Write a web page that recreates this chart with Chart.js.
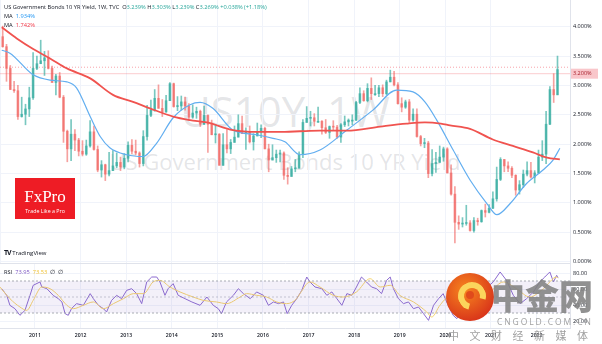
<!DOCTYPE html>
<html>
<head>
<meta charset="utf-8">
<script src="https://cdn.jsdelivr.net/npm/chart.js@4/dist/chart.umd.min.js"></script>
<style>
  body { margin: 0; background: #fff; width: 602px; height: 344px; overflow: hidden; position: relative; font-family: 'Open Sans', sans-serif; }
  canvas { position: absolute; left: 0; z-index: 1; }
  .t { position: absolute; white-space: nowrap; }
  #wm1 { left: 0; width: 570px; top: 90px; text-align: center; font-size: 42px; line-height: 42px; color: rgba(120,123,134,0.2); z-index: 0; }
  #wm2 { left: 0; width: 570px; top: 150px; text-align: center; font-size: 22px; line-height: 22px; color: rgba(120,123,134,0.2); z-index: 0; }
  .hd { left: 4px; font-size: 5.7px; line-height: 8px; color: #131722; z-index: 2; }
  #fx { left: 15px; top: 178px; width: 60px; height: 41px; background: #ee1c25; z-index: 2; color: #fff; text-align: center; }
  #fx .a { font-family: 'Liberation Serif', 'DejaVu Serif', serif; font-size: 17px; line-height: 17px; margin-top: 10px; }
  #fx .b { font-size: 5.3px; line-height: 6px; margin-top: 3px; }
  #tv { left: 4px; top: 248px; font-size: 6px; color: #131722; z-index: 2; }
  #cj { left: 446px; top: 273px; width: 48px; height: 48px; border-radius: 50%; z-index: 3;
        background: radial-gradient(circle at 40% 35%, #f7861f, #d9361a 75%); }
  #cj .s { position: absolute; left: 12px; top: 9px; width: 16px; height: 16px; border-radius: 50%; border: 6px solid #fbd45c; border-bottom-color: transparent; transform: rotate(-30deg); }
  #cj .d { position: absolute; left: 20px; top: 18px; width: 8px; height: 8px; border-radius: 50%; background: #e04a1c; }
  #cn1 { left: 491px; top: 275px; font-family: 'Noto Sans CJK SC'; font-weight: 900; font-size: 34px; line-height: 40px; color: rgba(130,130,130,0.88); z-index: 3; }
  #cn2 { left: 497px; top: 317px; font-size: 8.5px; line-height: 10px; letter-spacing: 1.9px; color: rgba(150,150,150,0.9); z-index: 3; }
  #cn3 { left: 448px; top: 329px; font-family: 'Noto Sans CJK SC'; font-size: 11px; line-height: 13px; letter-spacing: 10.5px; color: rgba(150,150,150,0.9); z-index: 3; }
</style>
</head>
<body>
<div class="t" id="wm1">US10Y, 1W</div>
<div class="t" id="wm2">US Government Bonds 10 YR Yield</div>
<canvas id="main" width="602" height="266" style="top:0"></canvas>
<canvas id="rsi" width="602" height="81" style="top:263px"></canvas>

<div class="t hd" style="top:3px">US Government Bonds 10 YR Yield, 1W, TVC &nbsp;O<span style="color:#26a69a">3.239%</span> H<span style="color:#26a69a">3.303%</span> L<span style="color:#26a69a">3.239%</span> C<span style="color:#26a69a">3.269%</span> <span style="color:#26a69a">+0.038% (+1.18%)</span></div>
<div class="t hd" style="top:12px">MA &nbsp;<span style="color:#2196f3">1.934%</span></div>
<div class="t hd" style="top:21px">MA &nbsp;<span style="color:#f23645">1.742%</span></div>
<div class="t hd" style="top:268px">RSI &nbsp;<span style="color:#7e57c2">73.95</span> &nbsp;<span style="color:#f2c230">73.53</span> &nbsp;∅ &nbsp;∅</div>

<div class="t" id="fx"><div class="a">FxPro</div><div class="b">Trade Like a Pro</div></div>
<div class="t" id="tv"><b style="font-size:7px;letter-spacing:-1px">TV</b> TradingView</div>

<div class="t" id="cj"><div class="s"></div><div class="d"></div></div>
<div class="t" id="cn1">中金网</div>
<div class="t" id="cn2">CNGOLD.COM.CN</div>
<div class="t" id="cn3">中文财经新媒体</div>

<script>
// weekly US10Y chart, drawn here as monthly candles
const months = [
  '2010-04','2010-05','2010-06','2010-07','2010-08','2010-09','2010-10','2010-11','2010-12',
  '2011-01','2011-02','2011-03','2011-04','2011-05','2011-06','2011-07','2011-08','2011-09','2011-10','2011-11','2011-12',
  '2012-01','2012-02','2012-03','2012-04','2012-05','2012-06','2012-07','2012-08','2012-09','2012-10','2012-11','2012-12',
  '2013-01','2013-02','2013-03','2013-04','2013-05','2013-06','2013-07','2013-08','2013-09','2013-10','2013-11','2013-12',
  '2014-01','2014-02','2014-03','2014-04','2014-05','2014-06','2014-07','2014-08','2014-09','2014-10','2014-11','2014-12',
  '2015-01','2015-02','2015-03','2015-04','2015-05','2015-06','2015-07','2015-08','2015-09','2015-10','2015-11','2015-12',
  '2016-01','2016-02','2016-03','2016-04','2016-05','2016-06','2016-07','2016-08','2016-09','2016-10','2016-11','2016-12',
  '2017-01','2017-02','2017-03','2017-04','2017-05','2017-06','2017-07','2017-08','2017-09','2017-10','2017-11','2017-12',
  '2018-01','2018-02','2018-03','2018-04','2018-05','2018-06','2018-07','2018-08','2018-09','2018-10','2018-11','2018-12',
  '2019-01','2019-02','2019-03','2019-04','2019-05','2019-06','2019-07','2019-08','2019-09','2019-10','2019-11','2019-12',
  '2020-01','2020-02','2020-03','2020-04','2020-05','2020-06','2020-07','2020-08','2020-09','2020-10','2020-11','2020-12',
  '2021-01','2021-02','2021-03','2021-04','2021-05','2021-06','2021-07','2021-08','2021-09','2021-10','2021-11','2021-12',
  '2022-01','2022-02','2022-03','2022-04','2022-05','2022-06'
];
const open = [
  3.83,3.66,3.29,2.93,2.91,2.47,2.51,2.60,2.79,
  3.29,3.37,3.42,3.47,3.29,3.05,3.16,2.80,2.22,1.92,2.17,2.07,
  1.88,1.83,1.97,2.21,1.91,1.56,1.65,1.49,1.55,1.63,1.69,1.61,
  1.76,1.98,1.88,1.85,1.67,2.13,2.49,2.58,2.78,2.61,2.55,2.74,
  3.03,2.64,2.65,2.72,2.65,2.46,2.53,2.56,2.34,2.49,2.34,2.16,
  2.17,1.64,1.99,1.92,2.03,2.12,2.35,2.18,2.21,2.04,2.14,2.21,
  2.27,1.92,1.73,1.77,1.83,1.85,1.47,1.45,1.58,1.59,1.83,2.37,
  2.44,2.45,2.39,2.39,2.28,2.20,2.30,2.29,2.12,2.33,2.38,2.41,
  2.41,2.71,2.86,2.74,2.95,2.86,2.86,2.96,2.86,3.06,3.14,3.01,
  2.69,2.63,2.72,2.41,2.51,2.13,2.01,2.02,1.50,1.67,1.69,1.78,
  1.92,1.51,1.15,0.67,0.64,0.65,0.66,0.53,0.70,0.68,0.87,0.84,
  0.91,1.07,1.40,1.74,1.63,1.59,1.47,1.22,1.31,1.49,1.55,1.44,
  1.51,1.78,1.83,2.34,2.93,2.84
];
const high = [
  4.01,3.70,3.34,3.07,3.00,2.80,2.68,2.97,3.56,
  3.50,3.77,3.58,3.59,3.33,3.19,3.22,2.83,2.24,2.42,2.25,2.10,
  2.06,2.07,2.40,2.31,1.97,1.72,1.66,1.86,1.89,1.85,1.78,1.84,
  2.04,2.08,2.07,1.87,2.23,2.66,2.75,2.93,3.01,2.76,2.83,3.05,
  3.04,2.81,2.82,2.80,2.69,2.67,2.63,2.58,2.65,2.50,2.41,2.33,
  2.18,2.18,2.25,2.08,2.31,2.50,2.48,2.28,2.31,2.18,2.36,2.33,
  2.29,2.00,1.99,1.90,1.90,1.87,1.60,1.62,1.74,1.87,2.42,2.64,
  2.56,2.52,2.63,2.40,2.42,2.31,2.40,2.32,2.35,2.48,2.43,2.50,
  2.73,2.96,2.91,3.03,3.13,3.00,3.00,3.01,3.09,3.26,3.24,3.05,
  2.79,2.75,2.76,2.60,2.60,2.15,2.10,2.05,1.91,1.86,1.97,1.95,
  1.94,1.65,1.28,0.78,0.75,0.96,0.70,0.75,0.74,0.88,0.98,0.97,
  1.19,1.61,1.77,1.74,1.70,1.62,1.48,1.38,1.56,1.70,1.69,1.55,
  1.90,2.06,2.56,2.98,3.20,3.50
];
const low = [
  3.65,3.07,2.93,2.88,2.42,2.46,2.33,2.47,2.76,
  3.27,3.37,3.17,3.28,3.05,2.84,2.79,2.03,1.70,1.72,1.89,1.80,
  1.80,1.81,1.95,1.90,1.53,1.44,1.38,1.46,1.55,1.60,1.55,1.58,
  1.70,1.84,1.82,1.61,1.63,2.07,2.47,2.56,2.61,2.47,2.54,2.74,
  2.63,2.57,2.58,2.58,2.41,2.44,2.44,2.30,2.33,1.86,2.16,2.02,
  1.64,1.64,1.85,1.84,2.03,2.12,2.18,1.91,2.02,1.90,2.14,2.11,
  1.92,1.53,1.73,1.69,1.70,1.40,1.32,1.45,1.53,1.59,1.77,2.37,
  2.31,2.31,2.37,2.17,2.18,2.10,2.24,2.10,2.03,2.30,2.31,2.33,
  2.40,2.69,2.73,2.72,2.76,2.83,2.81,2.81,2.84,3.06,2.99,2.68,
  2.55,2.61,2.37,2.39,2.12,1.97,1.94,1.43,1.46,1.52,1.69,1.71,
  1.51,1.13,0.32,0.55,0.59,0.62,0.52,0.50,0.62,0.67,0.76,0.83,
  0.90,1.03,1.38,1.53,1.53,1.43,1.13,1.15,1.26,1.46,1.42,1.34,
  1.50,1.72,1.67,2.33,2.71,2.84
];
const close = [
  3.66,3.29,2.93,2.91,2.47,2.51,2.60,2.79,3.29,
  3.37,3.42,3.47,3.29,3.05,3.16,2.80,2.22,1.92,2.17,2.07,1.88,
  1.83,1.97,2.21,1.91,1.56,1.65,1.49,1.55,1.63,1.69,1.61,1.76,
  1.98,1.88,1.85,1.67,2.13,2.49,2.58,2.78,2.61,2.55,2.74,3.03,
  2.64,2.65,2.72,2.65,2.46,2.53,2.56,2.34,2.49,2.34,2.16,2.17,
  1.64,1.99,1.92,2.03,2.12,2.35,2.18,2.21,2.04,2.14,2.21,2.27,
  1.92,1.73,1.77,1.83,1.85,1.47,1.45,1.58,1.59,1.83,2.37,2.44,
  2.45,2.39,2.39,2.28,2.20,2.30,2.29,2.12,2.33,2.38,2.41,2.41,
  2.71,2.86,2.74,2.95,2.86,2.86,2.96,2.86,3.06,3.14,3.01,2.69,
  2.63,2.72,2.41,2.51,2.13,2.01,2.02,1.50,1.67,1.69,1.78,1.92,
  1.51,1.15,0.67,0.64,0.65,0.66,0.53,0.70,0.68,0.87,0.84,0.91,
  1.07,1.40,1.74,1.63,1.59,1.47,1.22,1.31,1.49,1.55,1.44,1.51,
  1.78,1.83,2.34,2.93,2.84,3.27
];

// 200-week MA (red) and 50-week MA (blue), read at sample dates
const maSlowX = [2010.27,2010.60,2010.96,2011.33,2011.70,2012.21,2012.71,2013.15,2013.52,2014.03,2014.40,2014.77,2015.34,2015.86,2016.48,2016.81,2017.25,2017.84,2018.57,2019.15,2019.55,2019.90,2020.10,2020.54,2021.04,2021.48,2021.92,2022.23,2022.51];
const maSlowY = [3.99,3.80,3.62,3.46,3.29,3.12,2.84,2.72,2.61,2.47,2.41,2.37,2.24,2.21,2.21,2.22,2.23,2.23,2.30,2.35,2.37,2.35,2.32,2.26,2.08,1.97,1.86,1.77,1.74];
const maFastX = [2010.27,2010.45,2010.96,2011.33,2011.70,2011.91,2012.21,2012.43,2012.64,2013.01,2013.37,2013.67,2014.03,2014.40,2014.62,2014.90,2015.34,2015.86,2016.22,2016.48,2016.81,2017.25,2017.84,2018.41,2018.93,2019.29,2019.55,2019.81,2020.17,2020.54,2020.91,2021.13,2021.42,2021.78,2022.14,2022.36,2022.51];
const maFastY = [3.60,3.55,3.18,3.09,3.06,2.96,2.47,2.13,1.94,1.82,1.79,2.02,2.45,2.67,2.71,2.61,2.24,2.16,2.10,2.04,1.82,1.90,2.24,2.58,2.92,2.89,2.72,2.41,1.90,1.39,0.99,0.80,0.99,1.33,1.56,1.73,1.93];

// RSI pane
const rsiX = [2010.27,2010.38,2010.45,2010.56,2010.67,2010.78,2010.89,2010.96,2011.11,2011.15,2011.26,2011.40,2011.51,2011.59,2011.66,2011.73,2011.80,2011.91,2012.06,2012.21,2012.28,2012.39,2012.50,2012.57,2012.68,2012.79,2012.90,2013.01,2013.12,2013.23,2013.34,2013.45,2013.56,2013.67,2013.74,2013.85,2013.92,2014.03,2014.14,2014.29,2014.44,2014.62,2014.77,2014.91,2015.02,2015.09,2015.20,2015.35,2015.46,2015.57,2015.72,2015.86,2016.01,2016.12,2016.23,2016.34,2016.45,2016.53,2016.63,2016.74,2016.85,2016.96,2017.03,2017.14,2017.29,2017.40,2017.51,2017.62,2017.73,2017.84,2017.95,2018.05,2018.16,2018.27,2018.38,2018.49,2018.60,2018.71,2018.79,2018.86,2018.97,2019.08,2019.19,2019.30,2019.41,2019.52,2019.63,2019.74,2019.85,2019.95,2020.06,2020.17,2020.25,2020.43,2020.65,2020.87,2021.05,2021.20,2021.34,2021.49,2021.64,2021.78,2021.93,2022.07,2022.18,2022.29,2022.37,2022.44,2022.47];
const rsiY = [60.4,52.1,39.6,35.4,27.1,33.3,52.0,64.6,68.8,62.5,60.4,52.0,47.9,43.8,29.2,27.1,35.4,41.7,39.6,54.2,47.9,39.6,35.4,31.3,45.8,52.1,47.9,58.3,60.4,54.2,41.7,68.8,75.0,75.0,68.8,52.1,60.4,66.7,52.1,47.9,43.8,39.6,50.0,39.6,35.4,29.2,43.8,52.1,60.4,54.2,47.9,56.3,52.1,39.6,43.8,41.7,43.8,29.2,39.6,47.9,58.3,75.0,68.8,62.5,60.4,52.1,56.3,47.9,39.6,54.2,52.1,62.5,75.0,68.8,62.5,60.4,54.2,70.8,75.0,60.4,47.9,41.7,43.8,35.4,37.5,29.2,20.8,39.6,47.9,54.2,39.6,27.1,22.9,45.0,55.0,60.0,68.8,81.3,70.8,52.1,41.7,47.9,56.3,68.8,75.0,81.3,68.8,77.1,73.95];
const rsiMaX = [2010.23,2010.45,2010.67,2010.82,2010.96,2011.15,2011.33,2011.51,2011.70,2011.84,2012.06,2012.28,2012.50,2012.72,2012.94,2013.16,2013.38,2013.59,2013.74,2013.96,2014.18,2014.47,2014.69,2014.98,2015.20,2015.50,2015.64,2015.86,2016.08,2016.30,2016.52,2016.74,2016.81,2017.03,2017.25,2017.54,2017.76,2018.05,2018.35,2018.57,2018.79,2019.00,2019.30,2019.59,2019.70,2019.88,2020.03,2020.32,2020.65,2020.98,2021.27,2021.56,2021.85,2022.15,2022.44,2022.47];
const rsiMaY = [62.5,47.9,37.5,33.3,45.8,62.5,60.4,52.1,39.6,35.4,39.6,43.8,35.4,41.7,47.9,54.2,54.2,68.8,70.8,62.5,56.3,50.0,45.8,43.8,41.7,50.0,54.2,52.1,50.0,43.8,41.7,47.9,54.2,68.8,62.5,52.1,50.0,56.3,72.9,62.5,64.6,52.1,43.8,31.3,25.0,39.6,47.9,33.0,45.0,56.3,68.8,60.4,50.0,60.4,75.0,73.53];

const lastHigh = 3.31;
const levelLine = 3.20;
const rsiBands = [70, 50, 30];

const xMin = 2010.2325, xMax = 2022.7325;
const toYear = s => { const [y, m] = s.split('-').map(Number); return y + (m - 0.5) / 12; };
const xs = months.map(toYear);
const upCol = 'rgba(38,166,154,0.62)', dnCol = 'rgba(239,83,80,0.55)';
const candleCol = close.map((c, i) => c >= open[i] ? upCol : dnCol);
const pts = (xa, ya) => xa.map((x, i) => ({ x, y: ya[i] }));
const flat = v => [{ x: xMin, y: v }, { x: xMax, y: v }];

Chart.defaults.font.family = "'Open Sans', sans-serif";
const grid = '#f0f3fa';
const axisW = s => { s.width = 32; s.paddingTop = 0; s.paddingBottom = 0; };
const axisH = h => s => { s.height = h; s.paddingLeft = 0; s.paddingRight = 0; };

const priceTag = {
  id: 'priceTag',
  afterDraw(c) {
    const y = c.scales.y.getPixelForValue(levelLine), ctx = c.ctx;
    ctx.save();
    ctx.fillStyle = '#f9c6ca';
    ctx.fillRect(c.chartArea.right + 1, y - 5, 27, 10);
    ctx.fillStyle = '#a8202c';
    ctx.font = "5.5px 'Open Sans'";
    ctx.textBaseline = 'middle';
    ctx.fillText(levelLine.toFixed(3) + '%', c.chartArea.right + 3, y);
    ctx.restore();
  }
};

new Chart(document.getElementById('main'), {
  type: 'bar',
  data: {
    datasets: [
      { type: 'line', data: pts(maSlowX, maSlowY), borderColor: '#f0534f', borderWidth: 1.8, pointRadius: 0, cubicInterpolationMode: 'monotone', order: 0 },
      { type: 'line', data: pts(maFastX, maFastY), borderColor: '#62aef0', borderWidth: 1.2, pointRadius: 0, cubicInterpolationMode: 'monotone', order: 0 },
      { data: xs.map((x, i) => ({ x, y: [open[i], close[i]] })), backgroundColor: candleCol, barThickness: 2, minBarLength: 1, grouped: false, order: 1 },
      { data: xs.map((x, i) => ({ x, y: [low[i], high[i]] })), backgroundColor: candleCol, barThickness: 1, grouped: false, order: 2 },
      { type: 'line', data: flat(lastHigh), borderColor: 'rgba(242,54,69,0.45)', borderDash: [1, 2], borderWidth: 1, pointRadius: 0, order: 3 },
      { type: 'line', data: flat(levelLine), borderColor: 'rgba(242,54,69,0.25)', borderWidth: 1, pointRadius: 0, order: 3 }
    ]
  },
  options: {
    responsive: false, animation: false, devicePixelRatio: 1,
    layout: { padding: { bottom: 3 } },
    plugins: { legend: { display: false }, tooltip: { enabled: false } },
    scales: {
      x: {
        type: 'linear', min: xMin, max: xMax, offset: false,
        ticks: { display: false, stepSize: 1 },
        grid: { color: grid, drawTicks: false, offset: false },
        border: { display: true, color: '#e0e3eb' },
        afterFit: axisH(0)
      },
      y: {
        position: 'right', min: -0.0228, max: 4.4545,
        afterBuildTicks: s => { s.ticks = [0, 0.5, 1, 1.5, 2, 2.5, 3, 3.5, 4].map(v => ({ value: v })); },
        ticks: { callback: v => v.toFixed(3) + '%', font: { size: 5.5 }, color: '#131722', padding: 3 },
        grid: { color: grid, drawTicks: false },
        border: { color: '#e0e3eb' },
        afterFit: axisW
      }
    }
  },
  plugins: [priceTag]
});

new Chart(document.getElementById('rsi'), {
  type: 'line',
  data: {
    datasets: [
      { data: flat(rsiBands[0]), borderColor: '#9598a1', borderDash: [2, 2], borderWidth: 0.8, pointRadius: 0 },
      { data: flat(rsiBands[2]), borderColor: '#9598a1', borderDash: [2, 2], borderWidth: 0.8, pointRadius: 0, fill: '-1', backgroundColor: 'rgba(126,87,194,0.09)' },
      { data: flat(rsiBands[1]), borderColor: 'rgba(149,152,161,0.6)', borderDash: [2, 2], borderWidth: 0.8, pointRadius: 0 },
      { data: pts(rsiMaX, rsiMaY), borderColor: '#f5d36b', borderWidth: 1, pointRadius: 0, cubicInterpolationMode: 'monotone' },
      { data: pts(rsiX, rsiY), borderColor: '#8c6bd0', borderWidth: 1, pointRadius: 0 }
    ]
  },
  options: {
    responsive: false, animation: false, devicePixelRatio: 1,
    layout: { padding: { top: 1 } },
    plugins: { legend: { display: false }, tooltip: { enabled: false } },
    scales: {
      x: {
        type: 'linear', min: xMin, max: xMax,
        afterBuildTicks: s => { s.ticks = months.filter(m => m.endsWith('-01')).map(m => ({ value: +m.slice(0, 4) })); },
        ticks: { callback: v => String(v), font: { size: 5.2, weight: '600' }, color: '#131722', padding: 4, maxRotation: 0, autoSkip: false },
        grid: { color: grid, drawTicks: false },
        border: { color: '#e0e3eb' },
        afterFit: axisH(16)
      },
      y: {
        position: 'right', min: 11.25, max: 91.25,
        afterBuildTicks: s => { s.ticks = [20, 40, 60, 80].map(v => ({ value: v })); },
        ticks: { callback: v => v.toFixed(2), font: { size: 5.5 }, color: '#131722', padding: 3 },
        grid: { color: grid, drawTicks: false },
        border: { color: '#e0e3eb' },
        afterFit: axisW
      }
    }
  }
});
</script>
</body>
</html>
